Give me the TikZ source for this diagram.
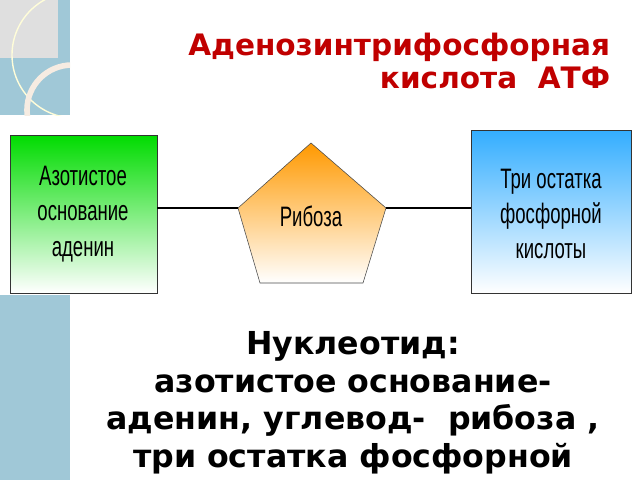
\documentclass[tikz,border=0pt]{standalone}
\usepackage{fontspec}
\setmainfont{DejaVu Sans}
\newfontfamily\narrowfont[FakeStretch=0.66]{Liberation Sans}
\usetikzlibrary{positioning}
\definecolor{stripblue}{RGB}{160,200,215}
\definecolor{titlered}{RGB}{192,0,0}
\begin{document}
\begin{tikzpicture}[x=0.025cm, y=-0.025cm,
    boxtext/.style={font=\narrowfont\fontsize{20}{25}\selectfont, align=center},
    link/.style={line width=1.2pt}]
\useasboundingbox (0,0) rectangle (640,480);
% left strip
\fill[stripblue] (0,0) rectangle (70,115);
\fill[stripblue] (0,295) rectangle (70,480);
\begin{scope}
\clip (0,0) rectangle (70,115);
\fill[gray!25] (0,0) rectangle (58,58);
\draw[white!85!yellow, line width=1pt] (75,55) circle (63);
\draw[white!85!brown, line width=4pt] (72,110) circle (45);
\end{scope}
% title
\node[anchor=north east, align=right, text=titlered, font=\bfseries\fontsize{21}{23.5}\selectfont]
  (title) at (615,28) {Аденозинтрифосфорная\\кислота~~АТФ};
% boxes
\shade[top color=green!80!black!70!green, bottom color=white, draw=black!80]
  (10,135) rectangle (157,293);
\node[boxtext] (base) at (83,214) {Азотистое\\основание\\аденин};
\shade[top color=cyan!60!blue!80, bottom color=white, draw=black!80]
  (471,130) rectangle (631,293);
\node[boxtext] (acid) at (551,214) {Три остатка\\фосфорной\\кислоты};
\shade[top color=orange!80!yellow, bottom color=white, draw=black!70]
  (311,143) -- (386,208) -- (363,283) -- (260,283) -- (238,208) -- cycle;
\node[boxtext] (ribose) at (311,216) {Рибоза};
\coordinate (bR) at (157,208);
\coordinate (pL) at (238,208);
\coordinate (pR) at (386,208);
\coordinate (aL) at (471,208);
\draw[link] (bR) -- (pL);
\draw[link] (pR) -- (aL);
% caption
\node[anchor=north, align=center, font=\bfseries\fontsize{22.5}{27}\selectfont]
  (caption) at (353,326) {Нуклеотид:\\азотистое основание-\\аденин, углевод-~~рибоза ,\\три остатка фосфорной};
\end{tikzpicture}
\end{document}
